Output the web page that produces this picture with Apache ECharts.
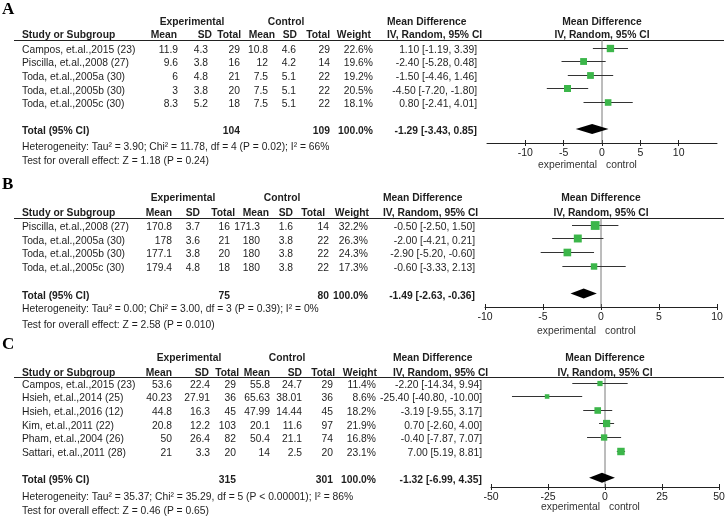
<!DOCTYPE html>
<html>
<head>
<meta charset="utf-8">
<script src="https://cdn.jsdelivr.net/npm/echarts@6/dist/echarts.min.js"></script>
<style>
html,body{margin:0;padding:0;background:#fff;}
#chart{width:728px;height:516px;}
</style>
</head>
<body>
<div id="chart"></div>
<script>
// ---------------- DATA ----------------
// Panel A
const studiesA = ["Campos, et.al.,2015 (23)", "Piscilla, et.al.,2008 (27)", "Toda, et.al.,2005a (30)", "Toda, et.al.,2005b (30)", "Toda, et.al.,2005c (30)"];
const expMeanA = [11.9, 9.6, 6, 3, 8.3];
const expSDA = [4.3, 3.8, 4.8, 3.8, 5.2];
const expNA = [29, 16, 21, 20, 18];
const ctlMeanA = [10.8, 12, 7.5, 7.5, 7.5];
const ctlSDA = [4.6, 4.2, 5.1, 5.1, 5.1];
const ctlNA = [29, 14, 22, 22, 22];
const weightA = [22.6, 19.6, 19.2, 20.5, 18.1];
const mdA = [1.10, -2.40, -1.50, -4.50, 0.80];
const loA = [-1.19, -5.28, -4.46, -7.20, -2.41];
const hiA = [3.39, 0.48, 1.46, -1.80, 4.01];
const totalNA = [104, 109];
const totalEffectA = [-1.29, -3.43, 0.85];
const hetA = "Heterogeneity: Tau² = 3.90; Chi² = 11.78, df = 4 (P = 0.02); I² = 66%";
const testA = "Test for overall effect: Z = 1.18 (P = 0.24)";
const ticksA = [-10, -5, 0, 5, 10];

// Panel B
const studiesB = ["Piscilla, et.al.,2008 (27)", "Toda, et.al.,2005a (30)", "Toda, et.al.,2005b (30)", "Toda, et.al.,2005c (30)"];
const expMeanB = [170.8, 178, 177.1, 179.4];
const expSDB = [3.7, 3.6, 3.8, 4.8];
const expNB = [16, 21, 20, 18];
const ctlMeanB = [171.3, 180, 180, 180];
const ctlSDB = [1.6, 3.8, 3.8, 3.8];
const ctlNB = [14, 22, 22, 22];
const weightB = [32.2, 26.3, 24.3, 17.3];
const mdB = [-0.50, -2.00, -2.90, -0.60];
const loB = [-2.50, -4.21, -5.20, -3.33];
const hiB = [1.50, 0.21, -0.60, 2.13];
const totalNB = [75, 80];
const totalEffectB = [-1.49, -2.63, -0.36];
const hetB = "Heterogeneity: Tau² = 0.00; Chi² = 3.00, df = 3 (P = 0.39); I² = 0%";
const testB = "Test for overall effect: Z = 2.58 (P = 0.010)";
const ticksB = [-10, -5, 0, 5, 10];

// Panel C
const studiesC = ["Campos, et.al.,2015 (23)", "Hsieh, et.al.,2014 (25)", "Hsieh, et.al.,2016 (12)", "Kim, et.al.,2011 (22)", "Pham, et.al.,2004 (26)", "Sattari, et.al.,2011 (28)"];
const expMeanC = [53.6, 40.23, 44.8, 20.8, 50, 21];
const expSDC = [22.4, 27.91, 16.3, 12.2, 26.4, 3.3];
const expNC = [29, 36, 45, 103, 82, 20];
const ctlMeanC = [55.8, 65.63, 47.99, 20.1, 50.4, 14];
const ctlSDC = [24.7, 38.01, 14.44, 11.6, 21.1, 2.5];
const ctlNC = [29, 36, 45, 97, 74, 20];
const weightC = [11.4, 8.6, 18.2, 21.9, 16.8, 23.1];
const mdC = [-2.20, -25.40, -3.19, 0.70, -0.40, 7.00];
const loC = [-14.34, -40.80, -9.55, -2.60, -7.87, 5.19];
const hiC = [9.94, -10.00, 3.17, 4.00, 7.07, 8.81];
const totalNC = [315, 301];
const totalEffectC = [-1.32, -6.99, 4.35];
const hetC = "Heterogeneity: Tau² = 35.37; Chi² = 35.29, df = 5 (P < 0.00001); I² = 86%";
const testC = "Test for overall effect: Z = 0.46 (P = 0.65)";
const ticksC = [-50, -25, 0, 25, 50];

const headerCols = ["Mean", "SD", "Total", "Mean", "SD", "Total", "Weight"];
const groupHeaders = ["Experimental", "Control"];
const effectHeader = ["Mean Difference", "IV, Random, 95% CI"];
const sideLabels = ["experimental", "control"];
const noEffect = 0;

// ---------------- LAYOUT ----------------
const layoutA = {letterY: 10, groupY: 22, headY: 35, lineY: 40, rowY0: 50, rowStep: 13.6, hetY: 147, testY: 161,
  axisY: 143, gridL: 487, gridR: 717, xMin: -15, xMax: 15, interval: 5, sideY: 165,
  head: [177, 212, 241, 275, 297, 330, 371], cols: [178, 208, 240, 268, 296, 330, 373], ci: 477,
  mdHead: 387, expHead: 192, ctlHead: 286};
const layoutB = {letterY: 185, groupY: 198, headY: 213, lineY: 218, rowY0: 227, rowStep: 13.8, hetY: 309, testY: 325,
  axisY: 307, gridL: 485, gridR: 717, xMin: -10, xMax: 10, interval: 5, sideY: 331,
  head: [172, 200, 235, 269, 293, 325, 369], cols: [172, 200, 230, 260, 293, 329, 368], ci: 475,
  mdHead: 383, expHead: 183, ctlHead: 282};
const layoutC = {letterY: 345, groupY: 358, headY: 373, lineY: 377, rowY0: 385, rowStep: 13.6, hetY: 497, testY: 511,
  axisY: 487, gridL: 491, gridR: 719, xMin: -50, xMax: 50, interval: 25, sideY: 507,
  head: [172, 209, 239, 270, 302, 335, 377], cols: [172, 210, 236, 270, 302, 333, 376], ci: 482,
  mdHead: 393, expHead: 189, ctlHead: 287};

const panels = [
  {letter: "A", studies: studiesA, em: expMeanA, es: expSDA, en: expNA, cm: ctlMeanA, cs: ctlSDA, cn: ctlNA, w: weightA,
   md: mdA, lo: loA, hi: hiA, tot: totalNA, eff: totalEffectA, het: hetA, test: testA, ticks: ticksA, L: layoutA},
  {letter: "B", studies: studiesB, em: expMeanB, es: expSDB, en: expNB, cm: ctlMeanB, cs: ctlSDB, cn: ctlNB, w: weightB,
   md: mdB, lo: loB, hi: hiB, tot: totalNB, eff: totalEffectB, het: hetB, test: testB, ticks: ticksB, L: layoutB},
  {letter: "C", studies: studiesC, em: expMeanC, es: expSDC, en: expNC, cm: ctlMeanC, cs: ctlSDC, cn: ctlNC, w: weightC,
   md: mdC, lo: loC, hi: hiC, tot: totalNC, eff: totalEffectC, het: hetC, test: testC, ticks: ticksC, L: layoutC}
];

const FONT = '"Liberation Sans", Arial, Helvetica, sans-serif';
const FS = 10.3;
const TXT = '#1e1e1e';
const PLOT_OFF = -2.5;
const SQ_K = 1.55;

function T(x, y, text, align, bold, extra) {
  const st = Object.assign({text: text, fontFamily: FONT, fontSize: FS, fontWeight: bold ? 'bold' : 'normal',
    fill: TXT, textAlign: align, textVerticalAlign: 'middle', align: align, verticalAlign: 'middle'}, extra || {});
  return {type: 'text', x: x, y: y, silent: true, style: st};
}
function fmtCI(m, l, h) { return m.toFixed(2) + " [" + l.toFixed(2) + ", " + h.toFixed(2) + "]"; }

const graphics = [];
const grids = [], xAxes = [], yAxes = [], series = [];

panels.forEach(function (P, pi) {
  const L = P.L;
  const n = P.studies.length;
  const zeroX = L.gridL + (noEffect - L.xMin) / (L.xMax - L.xMin) * (L.gridR - L.gridL);
  graphics.push(T(2, L.letterY, P.letter, 'left', true, {fontFamily: '"Liberation Serif", "Times New Roman", serif', fontSize: 17, fill: '#000'}));
  graphics.push(T(L.expHead, L.groupY, groupHeaders[0], 'center', true));
  graphics.push(T(L.ctlHead, L.groupY, groupHeaders[1], 'center', true));
  graphics.push(T(L.mdHead, L.groupY, effectHeader[0], 'left', true));
  graphics.push(T(zeroX, L.groupY, effectHeader[0], 'center', true));
  graphics.push(T(22, L.headY, "Study or Subgroup", 'left', true));
  headerCols.forEach(function (h, k) { graphics.push(T(L.head[k], L.headY, h, 'right', true)); });
  graphics.push(T(L.mdHead, L.headY, effectHeader[1], 'left', true));
  graphics.push(T(zeroX, L.headY, effectHeader[1], 'center', true));
  graphics.push({type: 'line', silent: true, shape: {x1: 14, y1: L.lineY + 0.5, x2: 724, y2: L.lineY + 0.5},
    style: {stroke: '#222', lineWidth: 1}});
  for (let i = 0; i < n; i++) {
    const y = L.rowY0 + i * L.rowStep;
    const vals = [P.em[i], P.es[i], P.en[i], P.cm[i], P.cs[i], P.cn[i]];
    graphics.push(T(22, y, P.studies[i], 'left', false));
    vals.forEach(function (v, k) { graphics.push(T(L.cols[k], y, String(v), 'right', false)); });
    graphics.push(T(L.cols[6], y, P.w[i].toFixed(1) + "%", 'right', false));
    graphics.push(T(L.ci, y, fmtCI(P.md[i], P.lo[i], P.hi[i]), 'right', false));
  }
  const ty = L.rowY0 + (n + 1) * L.rowStep;
  graphics.push(T(22, ty, "Total (95% CI)", 'left', true));
  graphics.push(T(L.cols[2], ty, String(P.tot[0]), 'right', true));
  graphics.push(T(L.cols[5], ty, String(P.tot[1]), 'right', true));
  graphics.push(T(L.cols[6], ty, "100.0%", 'right', true));
  graphics.push(T(L.ci, ty, fmtCI(P.eff[0], P.eff[1], P.eff[2]), 'right', true));
  graphics.push(T(22, L.hetY, P.het, 'left', false));
  graphics.push(T(22, L.testY, P.test, 'left', false));
  graphics.push(T(zeroX - 5, L.sideY, sideLabels[0], 'right', false, {fill: '#333'}));
  graphics.push(T(zeroX + 4, L.sideY, sideLabels[1], 'left', false, {fill: '#333'}));

  const base = L.rowY0 + PLOT_OFF;
  const yMin = (L.lineY - base) / L.rowStep;
  const yMax = (L.axisY - base) / L.rowStep;
  grids.push({left: L.gridL, width: L.gridR - L.gridL, top: L.lineY, height: L.axisY - L.lineY});
  const axBase = {gridIndex: pi, type: 'value', min: L.xMin, max: L.xMax, interval: L.interval, position: 'bottom',
    splitLine: {show: false}};
  xAxes.push(Object.assign({}, axBase, {
    axisLine: {show: true, onZero: false, lineStyle: {color: '#222', width: 1}},
    axisTick: {show: true, length: 3, customValues: P.ticks, lineStyle: {color: '#222', width: 1}},
    axisLabel: {show: true, customValues: P.ticks, margin: 5, fontSize: 10.5, color: '#222', fontFamily: FONT}
  }));
  xAxes.push(Object.assign({}, axBase, {
    axisLine: {show: false, onZero: false},
    axisTick: {show: true, inside: true, length: 3, customValues: P.ticks, lineStyle: {color: '#222', width: 1}},
    axisLabel: {show: false}
  }));
  yAxes.push({gridIndex: pi, type: 'value', inverse: true, show: false, min: yMin, max: yMax});

  // vertical no-effect line as a plain line series on the panel's axes
  series.push({
    type: 'line', xAxisIndex: pi * 2, yAxisIndex: pi, silent: true, showSymbol: false, symbol: 'none',
    clip: false, z: 1,
    lineStyle: {color: '#7a7a7a', width: 1},
    data: [[noEffect, yMin], [noEffect, yMax]]
  });
  const studyData = P.md.map(function (m, i) { return [m, i, P.lo[i], P.hi[i], P.w[i]]; });
  series.push({
    type: 'custom', xAxisIndex: pi * 2, yAxisIndex: pi, silent: true, clip: false,
    encode: {x: [0, 2, 3], y: 1},
    data: studyData,
    renderItem: function (params, api) {
      const yv = api.value(1);
      const c = api.coord([api.value(0), yv]);
      const l = api.coord([api.value(2), yv]);
      const h = api.coord([api.value(3), yv]);
      const s = SQ_K * Math.sqrt(api.value(4));
      const yy = Math.round(c[1]) + 0.5;
      return {type: 'group', children: [
        {type: 'line', shape: {x1: l[0], y1: yy, x2: h[0], y2: yy}, style: {stroke: '#333', lineWidth: 1}},
        {type: 'rect', shape: {x: c[0] - s / 2, y: yy - s / 2, width: s, height: s}, style: {fill: '#3cb64a'}}
      ]};
    },
    z: 3
  });
  series.push({
    type: 'custom', xAxisIndex: pi * 2, yAxisIndex: pi, silent: true, clip: false,
    encode: {x: [0, 2, 3], y: 1},
    data: [[P.eff[0], n + 1, P.eff[1], P.eff[2]]],
    renderItem: function (params, api) {
      const yv = api.value(1);
      const c = api.coord([api.value(0), yv]);
      const l = api.coord([api.value(2), yv]);
      const h = api.coord([api.value(3), yv]);
      return {type: 'polygon', shape: {points: [[l[0], c[1]], [c[0], c[1] - 5], [h[0], c[1]], [c[0], c[1] + 5]]},
        style: {fill: '#000'}};
    },
    z: 2
  });
});

const chart = echarts.init(document.getElementById('chart'), null, {renderer: 'canvas'});
chart.setOption({
  backgroundColor: '#fff',
  animation: false,
  grid: grids,
  xAxis: xAxes,
  yAxis: yAxes,
  series: series,
  graphic: graphics
});
</script>
</body>
</html>
